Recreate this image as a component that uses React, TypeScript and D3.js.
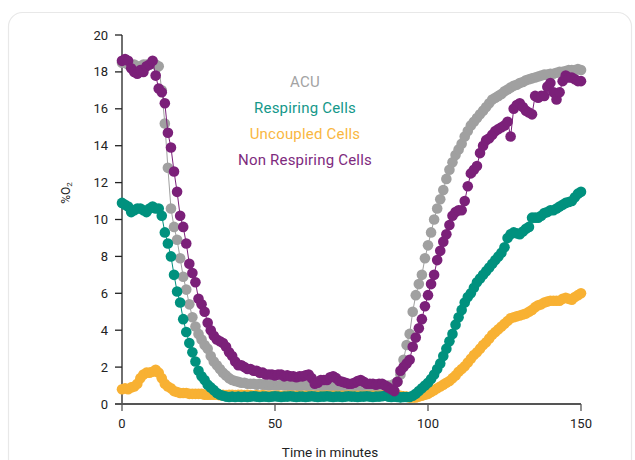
import * as d3 from "d3";

const WIDTH = 635;
const HEIGHT = 460;
const PLOT = { left: 122, right: 581, top: 35, bottom: 404 };
const DOT_R = 5.3;

// %O2 readings, one per minute (0..150)
const acu = [
  18.5, 18.5, 18.4, 18.4, 18.4, 18.3, 18.3, 18.4, 18.4, 18.4,
  18.5, 18.4, 18.3, 17.0, 15.2, 12.8, 10.6, 9.6, 8.9, 7.9,
  6.9, 6.2, 5.4, 4.7, 4.2, 3.8, 3.5, 3.2, 3.0, 2.6,
  2.3, 2.1, 1.9, 1.7, 1.55, 1.4, 1.3, 1.25, 1.2, 1.15,
  1.15, 1.1, 1.1, 1.1, 1.05, 1.1, 1.05, 1.05, 1.0, 1.05,
  1.0, 1.0, 1.05, 1.0, 1.0, 0.95, 1.0, 1.0, 0.95, 1.0,
  1.0, 0.95, 1.0, 1.0, 0.95, 0.95, 1.0, 0.95, 0.95, 1.0,
  0.95, 0.95, 0.95, 1.0, 0.95, 0.9, 0.95, 0.95, 0.9, 0.95,
  0.95, 0.95, 0.9, 0.95, 1.0, 0.95, 0.95, 1.0, 1.0, 1.1,
  1.2, 1.6, 2.4, 3.2, 3.8, 5.0, 5.9, 6.5, 7.0, 7.9,
  8.6, 9.3, 10.0, 10.6, 11.1, 11.6, 12.2, 12.7, 13.1, 13.5,
  13.8, 14.1, 14.5, 14.8, 15.1, 15.3, 15.5, 15.7, 15.9, 16.1,
  16.3, 16.5, 16.6, 16.7, 16.8, 16.95, 17.05, 17.15, 17.25, 17.3,
  17.4, 17.45, 17.55, 17.6, 17.65, 17.7, 17.75, 17.8, 17.85, 17.85,
  17.9, 17.9, 17.95, 18.0, 18.0, 18.05, 18.1, 18.1, 18.1, 18.15,
  18.1,
];

const respiring = [
  10.9, 10.8, 10.7, 10.4, 10.5, 10.6, 10.6, 10.5, 10.4, 10.6,
  10.7, 10.6, 10.6, 10.2, 9.3, 8.7, 8.0, 7.0, 6.1, 5.5,
  4.6, 3.9, 3.3, 2.8, 2.3, 1.8, 1.5, 1.3, 1.05, 0.9,
  0.75, 0.6, 0.5, 0.45, 0.4, 0.38, 0.4, 0.38, 0.4, 0.38,
  0.4, 0.38, 0.4, 0.42, 0.4, 0.38, 0.4, 0.4, 0.38, 0.4,
  0.42, 0.4, 0.38, 0.4, 0.4, 0.42, 0.4, 0.38, 0.4, 0.4,
  0.38, 0.4, 0.42, 0.4, 0.38, 0.4, 0.4, 0.42, 0.4, 0.38,
  0.4, 0.4, 0.38, 0.4, 0.42, 0.4, 0.4, 0.38, 0.4, 0.4,
  0.42, 0.4, 0.38, 0.4, 0.4, 0.42, 0.45, 0.4, 0.38, 0.4,
  0.38, 0.36, 0.38, 0.38, 0.38, 0.45, 0.55, 0.7, 0.85, 1.0,
  1.15, 1.35, 1.6, 1.9, 2.2, 2.6, 3.0, 3.4, 3.8, 4.3,
  4.7, 5.1, 5.5, 5.8, 6.0, 6.3, 6.6, 6.8, 7.0, 7.2,
  7.4, 7.6, 7.8, 8.0, 8.2, 8.5, 9.0, 9.2, 9.3, 9.25,
  9.2, 9.35, 9.5, 9.6, 10.1, 10.1, 10.1, 10.2, 10.35, 10.4,
  10.5, 10.5, 10.6, 10.7, 10.8, 10.9, 10.95, 11.0, 11.2, 11.4,
  11.5,
];

const uncoupled = [
  0.8, 0.85, 0.8, 0.9, 0.95, 1.1, 1.4, 1.6, 1.7, 1.7,
  1.75, 1.85, 1.7, 1.4, 1.1, 0.95, 0.85, 0.7, 0.65, 0.6,
  0.6, 0.6, 0.55, 0.55, 0.55, 0.55, 0.55, 0.5, 0.5, 0.5,
  0.5, 0.5, 0.48, 0.5, 0.48, 0.5, 0.5, 0.48, 0.5, 0.5,
  0.48, 0.5, 0.48, 0.46, 0.48, 0.46, 0.48, 0.46, 0.45, 0.46,
  0.45, 0.46, 0.45, 0.44, 0.45, 0.46, 0.45, 0.44, 0.45, 0.45,
  0.44, 0.45, 0.46, 0.45, 0.44, 0.45, 0.45, 0.46, 0.45, 0.44,
  0.45, 0.45, 0.44, 0.45, 0.46, 0.45, 0.45, 0.44, 0.45, 0.45,
  0.46, 0.45, 0.44, 0.45, 0.45, 0.46, 0.48, 0.46, 0.45, 0.48,
  0.48, 0.45, 0.42, 0.4, 0.35, 0.35, 0.35, 0.4, 0.45, 0.5,
  0.55, 0.65, 0.75, 0.85, 0.95, 1.05, 1.15, 1.25, 1.4, 1.55,
  1.75, 1.9, 2.05, 2.25, 2.45, 2.65, 2.8, 3.0, 3.2, 3.35,
  3.55, 3.75, 3.9, 4.05, 4.2, 4.35, 4.5, 4.65, 4.7, 4.75,
  4.8, 4.85, 4.9, 5.0, 5.1, 5.25, 5.35, 5.4, 5.5, 5.55,
  5.6, 5.6, 5.6, 5.6, 5.7, 5.75, 5.7, 5.65, 5.8, 5.9,
  6.0,
];

const nonRespiring = [
  18.6, 18.7, 18.6, 18.2, 18.0, 17.9, 18.1, 18.0, 18.3, 18.4,
  18.6, 17.8, 17.1, 16.9, 16.3, 14.7, 13.9, 12.6, 11.5, 10.2,
  9.6, 8.7, 7.6, 7.1, 6.6, 5.7, 5.4, 5.0, 4.4, 4.0,
  3.7, 3.5, 3.4, 3.3, 3.1, 2.8, 2.6, 2.3, 2.1, 2.1,
  2.0, 1.9, 1.9, 1.8, 1.8, 1.7, 1.7, 1.6, 1.6, 1.6,
  1.55, 1.6, 1.6, 1.5, 1.55, 1.5, 1.5, 1.45, 1.5, 1.5,
  1.55, 1.6, 1.4, 1.1, 1.15, 1.3, 1.3, 1.3, 1.45, 1.5,
  1.4, 1.25, 1.2, 1.15, 1.1, 1.1, 1.15, 1.25, 1.3, 1.2,
  1.1, 1.1, 1.1, 1.05, 1.1, 1.1, 1.0, 0.9, 0.8, 0.7,
  1.2, 1.8, 2.0, 2.2, 2.4, 3.1, 3.6, 4.1, 4.6, 5.3,
  5.9, 6.5, 7.0, 7.8, 8.3, 8.8, 9.2, 9.7, 10.2, 10.4,
  10.5, 10.5, 11.0, 11.8, 12.5, 12.7, 12.9, 13.6, 14.0, 14.3,
  14.4, 14.6, 14.8, 14.9, 15.0, 15.1, 15.3, 14.5, 16.0, 16.2,
  16.3, 16.1, 15.9, 15.8, 15.7, 16.7, 16.6, 16.7, 16.7, 17.2,
  17.4, 16.9, 16.5, 16.9, 17.5, 17.8, 17.7, 17.7, 17.6, 17.5,
  17.5,
];

const xTicks = [0, 50, 100, 150];
const yTicks = [0, 2, 4, 6, 8, 10, 12, 14, 16, 18, 20];

// drawing order: gray under, purple on top
const series = [
  { name: "ACU", values: acu, color: "#a0a0a0" },
  { name: "Uncoupled Cells", values: uncoupled, color: "#f8b133" },
  { name: "Respiring Cells", values: respiring, color: "#00917e" },
  { name: "Non Respiring Cells", values: nonRespiring, color: "#7b2079" },
];

const legend = [
  { label: "ACU", color: "#a3a3a3" },
  { label: "Respiring Cells", color: "#14988a" },
  { label: "Uncoupled Cells", color: "#f9b742" },
  { label: "Non Respiring Cells", color: "#7e2a7e" },
];

const FONT = "Roboto, 'DejaVu Sans', sans-serif";

export default function App() {
  const x = d3.scaleLinear().domain([0, 150]).range([PLOT.left, PLOT.right]);
  const y = d3.scaleLinear().domain([0, 20]).range([PLOT.bottom, PLOT.top]);

  const line = d3
    .line<number>()
    .x((_, i) => x(i))
    .y((d) => y(d));

  return (
    <svg
      width={WIDTH}
      height={HEIGHT}
      style={{ position: "absolute", left: 0, top: 0, background: "#fff" }}
      fontFamily={FONT}
    >
      {/* card outline */}
      <rect x={8.5} y={12.5} width={623} height={520} rx={14} fill="none" stroke="#e8e8e8" strokeWidth={1.2} />

      {/* y axis */}
      <line x1={PLOT.left} x2={PLOT.left} y1={PLOT.bottom} y2={PLOT.top} stroke="#222" strokeWidth={1.3} />
      {yTicks.map((t) => (
        <g key={t}>
          <line x1={PLOT.left - 7} x2={PLOT.left} y1={y(t)} y2={y(t)} stroke="#222" strokeWidth={1.3} />
          <text x={PLOT.left - 14} y={y(t)} dy="0.35em" textAnchor="end" fontSize={13} fill="#222">
            {t}
          </text>
        </g>
      ))}

      {/* series */}
      {series.map((s) => (
        <g key={s.name}>
          <path d={line(s.values) || ""} fill="none" stroke={s.color} strokeWidth={1} />
          {s.values.map((v, i) => (
            <circle key={i} cx={x(i)} cy={y(v)} r={DOT_R} fill={s.color} />
          ))}
        </g>
      ))}

      {/* x axis */}
      <line x1={PLOT.left - 7} x2={PLOT.right} y1={PLOT.bottom} y2={PLOT.bottom} stroke="#555" strokeWidth={2} />
      {xTicks.map((t) => (
        <g key={t}>
          <line x1={x(t)} x2={x(t)} y1={PLOT.bottom} y2={PLOT.bottom + 7} stroke="#555" strokeWidth={1.3} />
          <text x={x(t)} y={PLOT.bottom + 24} textAnchor="middle" fontSize={13} fill="#222">
            {t}
          </text>
        </g>
      ))}

      <text x={330} y={457} textAnchor="middle" fontSize={13.5} fill="#222">
        Time in minutes
      </text>
      <text transform="translate(70,193) rotate(-90)" textAnchor="middle" fontSize={12} fill="#222">
        %O<tspan fontSize={8} dy={2}>2</tspan>
      </text>

      {/* legend */}
      {legend.map((l, i) => (
        <text
          key={l.label}
          x={305}
          y={87 + i * 26}
          textAnchor="middle"
          fontSize={15}
          letterSpacing={0.2}
          fill={l.color}
        >
          {l.label}
        </text>
      ))}
    </svg>
  );
}
